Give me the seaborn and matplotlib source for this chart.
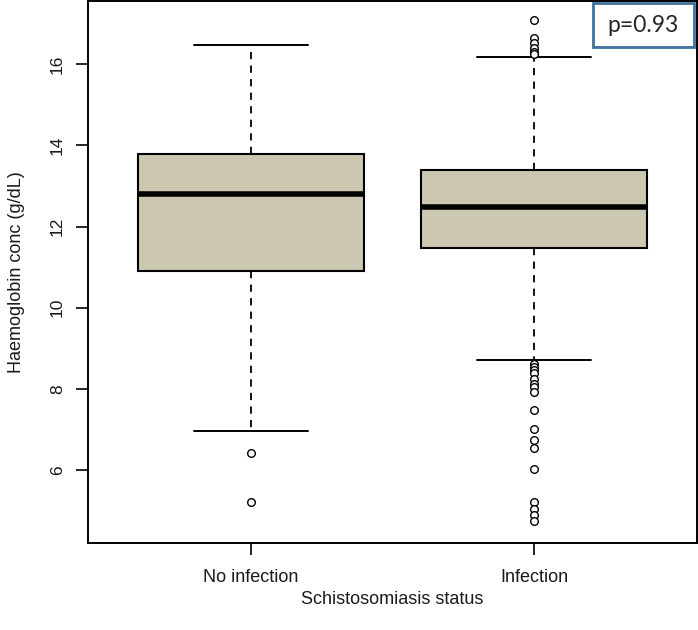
import numpy as np
import pandas as pd
import matplotlib
matplotlib.use("Agg")
import matplotlib.pyplot as plt
from matplotlib.patches import Rectangle
import seaborn as sns

# ---- data ----
groups = ["No infection", "Infection"]
q1 = [10.9, 11.48]
medians = [12.8, 12.47]
q3 = [13.78, 13.38]
whisker_low = [6.97, 8.72]
whisker_high = [16.48, 16.17]
outliers_no_infection = [6.42, 5.2]
outliers_infection = [17.1, 16.64, 16.52, 16.4, 16.3, 16.25,
                      8.62, 8.54, 8.46, 8.38, 8.25, 8.13, 8.05, 7.92,
                      7.48, 7.0, 6.74, 6.54, 6.02, 5.2, 5.04, 4.89, 4.75]
y_ticks = [6, 8, 10, 12, 14, 16]
p_text = "p=0.93"

sns.set_style("white")
plt.rcParams['font.family'] = ['Liberation Sans', 'DejaVu Sans']

fig = plt.figure(figsize=(6.98, 6.30), dpi=100)
ax = fig.add_axes([0.126, 0.138, 0.8726, 0.86])

stats = []
for i, g in enumerate(groups):
    stats.append(dict(label=g, q1=q1[i], med=medians[i], q3=q3[i],
                      whislo=whisker_low[i], whishi=whisker_high[i], fliers=[]))

ax.bxp(stats, positions=list(range(len(groups))), widths=0.8,
       showfliers=False, patch_artist=True,
       boxprops=dict(facecolor="#CCC7B0", edgecolor="black", linewidth=1.5),
       medianprops=dict(color="black", linewidth=4, solid_capstyle="butt"),
       whiskerprops=dict(color="black", linewidth=1.3, linestyle=(0, (4, 3.5))),
       capprops=dict(color="black", linewidth=1.4),
       capwidths=0.4)

out_df = pd.DataFrame({
    "status": [groups[0]] * len(outliers_no_infection) + [groups[1]] * len(outliers_infection),
    "hb": outliers_no_infection + outliers_infection,
})
sns.stripplot(data=out_df, x="status", y="hb", order=groups, jitter=False,
              marker="o", size=5.5, facecolor="white", edgecolor="black",
              linewidth=1.0, color="white", ax=ax, zorder=5)

ax.set_xlim(-0.576, 1.576)
ax.set_ylim(4.2, 17.55)
ax.set_yticks(y_ticks)
ax.set_yticklabels([str(t) for t in y_ticks], rotation=90, va="center", fontsize=12.5)
ax.set_xticks(range(len(groups)))
ax.set_xticklabels(groups, fontsize=13)
ax.tick_params(axis="both", direction="out", length=8.5, width=1.2, color="black",
               labelcolor="#1a1a1a", pad=10, left=True, bottom=True)
ax.tick_params(axis="y", pad=8)
for s in ax.spines.values():
    s.set_visible(True)
    s.set_color("black")
    s.set_linewidth(1.4)

ax.set_xlabel("Schistosomiasis status", fontsize=13, labelpad=4, color="#1a1a1a")
ax.set_ylabel("Haemoglobin conc (g/dL)", fontsize=13, labelpad=18, color="#1a1a1a")

ax.add_patch(Rectangle((0.829, 0.915), 0.166, 0.081, transform=ax.transAxes,
                       facecolor="white", edgecolor="#41719C", linewidth=2,
                       clip_on=False, zorder=6))
ax.text(0.912, 0.956, p_text, transform=ax.transAxes, ha="center", va="center",
        fontsize=16.5, family=["Lato", "DejaVu Sans"], zorder=7)

fig.savefig("out.png", dpi=100)
